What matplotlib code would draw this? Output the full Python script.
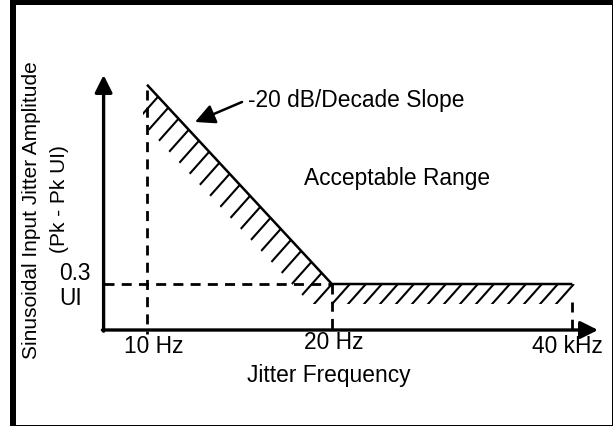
import matplotlib
matplotlib.use("Agg")
import matplotlib.pyplot as plt
from matplotlib.patches import Polygon, Rectangle
from matplotlib.collections import LineCollection
import numpy as np

plt.rcParams["font.family"] = ["Liberation Sans", "DejaVu Sans"]

# schematic data (x is not to scale, y is in UI)
freq_labels = ["10 Hz", "20 Hz", "40 kHz"]
freq_pos = [1.0, 5.26, 10.8]
mask_amp = [1.6, 0.3, 0.3]
floor_label = "0.3\nUI"
floor_amp = 0.3

# layout: origin in pixels and pixels per unit
W, H = 613, 427
ox, oy = 103.6, 331.0
sx, sy = 43.4, 153.3
fs = 16.4

fig = plt.figure(figsize=(W / 100, H / 100), dpi=100)
ax = fig.add_axes([0, 0, 1, 1])
ax.set_xlim(-ox / sx, (W - ox) / sx)
ax.set_ylim(-(H - oy) / sy, oy / sy)
ax.axis("off")

# frame around the picture
for x, y, w, h in [(10, 0, 6, H), (10, H - 6, W - 10, 6), (W - 1, 0, 1, H), (10, 0, W - 10, 1)]:
    ax.add_patch(Rectangle((x / W, y / H), w / W, h / H, transform=ax.transAxes,
                           color="black", lw=0, clip_on=False))

dash = (0, (3.6, 2.6))
below = -4 / sy
# dashed guide lines
ax.plot([freq_pos[0], freq_pos[0]], [mask_amp[0] - 5 / sy, below], color="black", lw=2, ls=dash)
ax.plot([freq_pos[1], freq_pos[1]], [floor_amp, below], color="black", lw=2, ls=dash)
ax.plot([freq_pos[2], freq_pos[2]], [floor_amp - 18 / sy, below], color="black", lw=2, ls=dash)
ax.plot([0, freq_pos[1]], [floor_amp, floor_amp], color="black", lw=2, ls=dash)

# hatched band under the mask
depth = 20 / sy
shift = 40 / sx
left = freq_pos[0] - 4 / sx
slope = (freq_pos[1] - freq_pos[0]) / (mask_amp[0] - mask_amp[1])
low_y = floor_amp - depth
x_low = freq_pos[0] + (mask_amp[0] - low_y) * slope - shift
y_left = mask_amp[0] - (left + shift - freq_pos[0]) / slope
band = Polygon(np.array([
    (freq_pos[0], mask_amp[0]), (freq_pos[1], mask_amp[1]), (freq_pos[2] + 3 / sx, mask_amp[2]),
    (freq_pos[2] + 3 / sx, low_y), (x_low, low_y), (left, y_left), (left, mask_amp[0]),
]), closed=True, fill=False, lw=0, transform=ax.transData)
ax.add_patch(band)

# stroke start points along the boundary
t = np.linspace(0.06, 1.0, 18)
bx = list(freq_pos[0] + t * (freq_pos[1] - freq_pos[0]))
by = list(mask_amp[0] + t * (mask_amp[1] - mask_amp[0]))
fx = np.arange(freq_pos[1] + 18 / sx, freq_pos[2] + 4 / sx, 16 / sx)
bx += list(fx)
by += [floor_amp] * len(fx)
segs = [[(x, y), (x - 24 / sx, y - 27 / sy)] for x, y in zip(bx, by)]
strokes = LineCollection(segs, colors="black", linewidths=1.5)
ax.add_collection(strokes)
strokes.set_clip_path(band)

# mask boundary
ax.plot(freq_pos, mask_amp, color="black", lw=1.8, solid_capstyle="butt")

# axes with arrowheads
arrow = dict(arrowstyle="-|>,head_length=0.7,head_width=0.35", lw=2.4, color="black",
             shrinkA=0, shrinkB=0, mutation_scale=15)
ax.annotate("", xy=((598 - ox) / sx, 0), xytext=(-1.2 / sx, 0), arrowprops=arrow)
ax.annotate("", xy=(0, (oy - 76) / sy), xytext=(0, -1.2 / sy), arrowprops=arrow)

# slope callout
ax.annotate("", xy=((195 - ox) / sx, (oy - 123) / sy), xytext=((242 - ox) / sx, (oy - 103) / sy),
            arrowprops=dict(arrowstyle="-|>,head_length=0.8,head_width=0.4", lw=1.8,
                            color="black", shrinkA=0, shrinkB=0, mutation_scale=15))
ax.text((248 - ox) / sx, (oy - 100) / sy, "-20 dB/Decade Slope", fontsize=fs,
        ha="left", va="center")
ax.text((304 - ox) / sx, (oy - 179) / sy, "Acceptable Range", fontsize=fs,
        ha="left", va="center")

# tick labels
label_dx = [7, 2, -5]
label_y = [347, 343, 347]
for pos, lab, dx, ly in zip(freq_pos, freq_labels, label_dx, label_y):
    ax.text(pos + dx / sx, (oy - ly) / sy, lab, fontsize=fs, ha="center", va="center")
ax.text((59 - ox) / sx, floor_amp - 1 / sy, floor_label, fontsize=fs, ha="left",
        va="center", linespacing=1.1)

ax.text((328.5 - ox) / sx, (oy - 376) / sy, "Jitter Frequency", fontsize=fs,
        ha="center", va="center")
ax.text((31 - ox) / sx, (oy - 210) / sy, "Sinusoidal Input Jitter Amplitude", fontsize=15,
        rotation=90, ha="center", va="center")
ax.text((59 - ox) / sx, (oy - 199) / sy, "(Pk - Pk UI)", fontsize=15,
        rotation=90, ha="center", va="center")

fig.savefig("out.png", dpi=100)
